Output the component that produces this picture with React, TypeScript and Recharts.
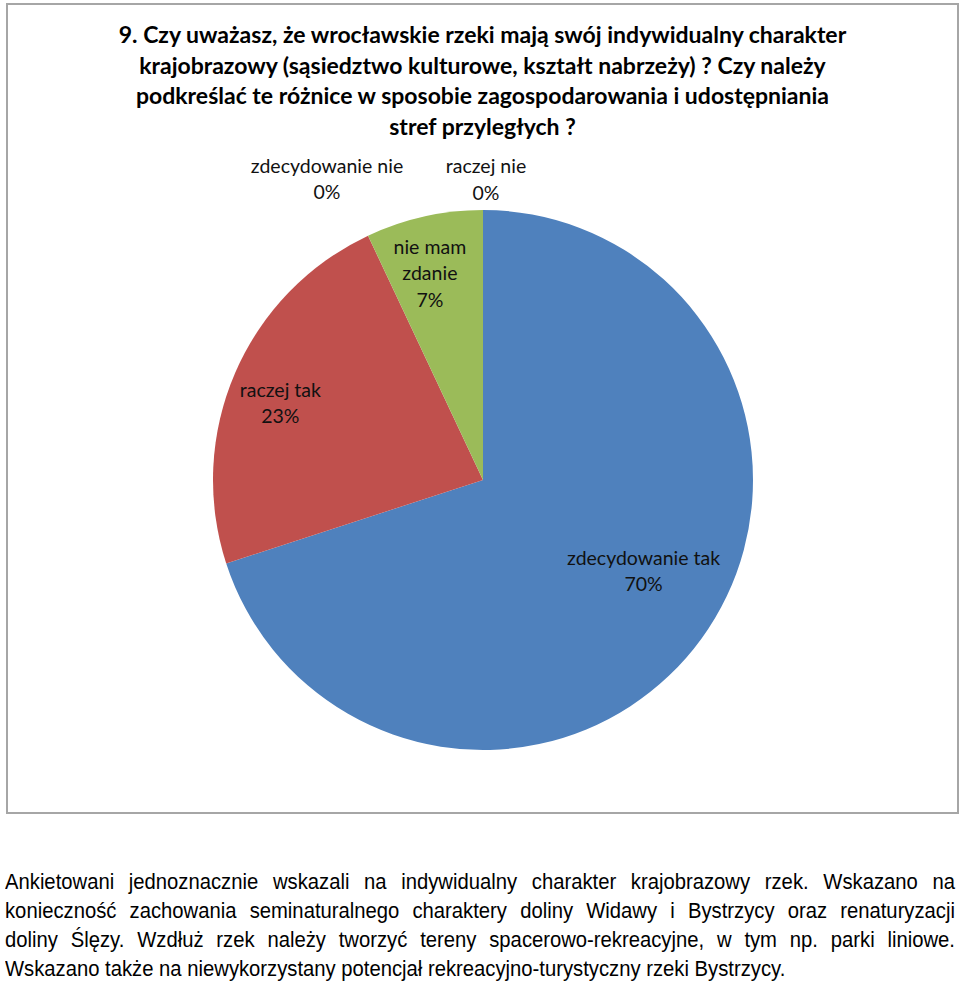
import { PieChart, Pie, Cell } from 'recharts'

const categories = ['zdecydowanie tak', 'raczej tak', 'nie mam zdanie', 'raczej nie', 'zdecydowanie nie']
const shares = [70, 23, 7, 0, 0]
const colors = ['#4F81BD', '#C0504D', '#9BBB59', '#8064A2', '#4BACC6']

const titleLines = [
  '9. Czy uważasz, że wrocławskie rzeki mają swój indywidualny charakter',
  'krajobrazowy (sąsiedztwo kulturowe, kształt nabrzeży) ? Czy należy',
  'podkreślać te różnice w sposobie zagospodarowania i udostępniania',
  'stref przyległych ?',
]

const paragraphLines = [
  'Ankietowani jednoznacznie wskazali na indywidualny charakter krajobrazowy rzek. Wskazano na',
  'konieczność zachowania seminaturalnego charaktery doliny Widawy i Bystrzycy oraz renaturyzacji',
  'doliny Ślęzy. Wzdłuż rzek należy tworzyć tereny spacerowo-rekreacyjne, w tym np. parki liniowe.',
  'Wskazano także na niewykorzystany potencjał rekreacyjno-turystyczny rzeki Bystrzycy.',
]

// label placement: radius factor + manual nudge (labels were dragged in the original)
const labelRadius = [0.68, 0.85, 0.8, 1.11, 1.13]
const labelNudge = [
  [12, -18],
  [8, 13],
  [-6, 3],
  [3, -2],
  [-156, 3],
]
const labelWrap = [0, 0, 7, 0, 0]

const data = categories.map((name, i) => ({ name, value: shares[i] }))

const RADIAN = Math.PI / 180
const LINE_H = 26.5
const SQUEEZE = 0.92

function wrap(text: string, max: number) {
  if (!max) return [text]
  const out: string[] = []
  let cur = ''
  for (const w of text.split(' ')) {
    const next = cur ? cur + ' ' + w : w
    if (next.length > max && cur) {
      out.push(cur)
      cur = w
    } else cur = next
  }
  if (cur) out.push(cur)
  return out
}

const renderLabel = (props: any) => {
  const { cx, cy, midAngle, outerRadius, index, name, value } = props
  const total = shares.reduce((a, b) => a + b, 0)
  const r = outerRadius * labelRadius[index]
  const x = cx + r * Math.cos(-midAngle * RADIAN) + labelNudge[index][0]
  const y = cy + r * Math.sin(-midAngle * RADIAN) + labelNudge[index][1]
  const lines = [...wrap(name, labelWrap[index]), `${Math.round((value / total) * 100)}%`]
  const top = y - ((lines.length - 1) * LINE_H) / 2
  return (
    <text
      x={x}
      y={top}
      textAnchor="middle"
      dominantBaseline="central"
      fill="#111"
      fontFamily="Lato, 'Open Sans', sans-serif"
      fontSize={19.5}
    >
      {lines.map((l, i) => (
        <tspan key={i} x={x} y={top + i * LINE_H}>
          {l}
        </tspan>
      ))}
    </text>
  )
}

export default function App() {
  return (
    <div style={{ position: 'absolute', left: 0, top: 0, width: 960, height: 984, background: '#fff' }}>
      <div
        style={{
          position: 'absolute',
          left: 6,
          top: 3,
          width: 949,
          height: 807,
          border: '2px solid #a6a6a6',
        }}
      >
        <PieChart width={949} height={807}>
          <Pie
            data={data}
            dataKey="value"
            nameKey="name"
            cx={470}
            cy={470}
            outerRadius={270}
            startAngle={90}
            endAngle={-270}
            stroke="none"
            labelLine={false}
            label={renderLabel}
            isAnimationActive={false}
          >
            {data.map((d, i) => (
              <Cell key={d.name} fill={colors[i]} />
            ))}
          </Pie>
        </PieChart>
        <div
          style={{
            position: 'absolute',
            left: 0,
            top: 14,
            width: 949,
            textAlign: 'center',
            fontFamily: "Lato, 'Open Sans', sans-serif",
            fontWeight: 700,
            fontSize: 23,
            lineHeight: '30.5px',
            color: '#000',
          }}
        >
          {titleLines.map((l) => (
            <div key={l}>{l}</div>
          ))}
        </div>
      </div>
      <div
        style={{
          position: 'absolute',
          left: 5,
          top: 867,
          width: 950 / SQUEEZE,
          transform: `scaleX(${SQUEEZE})`,
          transformOrigin: 'left top',
          fontFamily: "'Liberation Sans', Arial, sans-serif",
          fontSize: 22,
          lineHeight: '29px',
          color: '#000',
        }}
      >
        {paragraphLines.map((l, i) => (
          <div
            key={i}
            style={{
              whiteSpace: 'nowrap',
              textAlign: 'justify',
              textAlignLast: i < paragraphLines.length - 1 ? 'justify' : 'left',
            }}
          >
            {l}
          </div>
        ))}
      </div>
    </div>
  )
}
